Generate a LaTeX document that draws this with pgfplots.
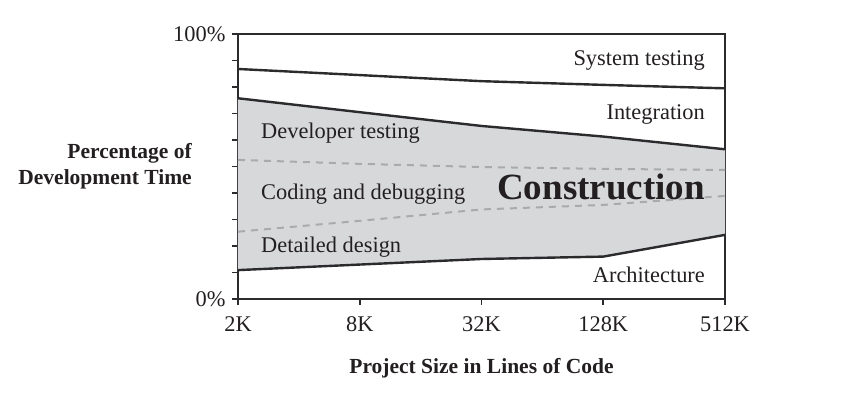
\documentclass[border=0pt]{standalone}
\usepackage{pgfplots}
\pgfplotsset{compat=1.18}
\usepackage{fontspec}
\setmainfont{Liberation Serif}
\definecolor{linec}{HTML}{2B2B2D}
\definecolor{fillc}{HTML}{D7D8DA}
\definecolor{dashc}{HTML}{A9AAAC}
\definecolor{txt}{HTML}{231F20}
\newcommand\lab{\fontsize{22.4}{26}\selectfont}
\newcommand\blab{\fontsize{21.5}{25.5}\selectfont\bfseries}
\begin{document}
\begin{tikzpicture}
\begin{axis}[
  scale only axis, width=487pt, height=265pt,
  xmin=0, xmax=4, ymin=0, ymax=100,
  xtick={0,1,2,3,4}, xticklabels={2K,8K,32K,128K,512K},
  ytick={0,10,...,100}, yticklabels={0\%,,,,,,,,,,100\%},
  tick pos=left, tick align=outside, major tick length=6pt,
  axis line style={linec, line width=2.4pt},
  every tick/.style={linec, line width=1.8pt},
  tick label style={font=\lab, text=txt},
  /pgf/number format/assume math mode=true,
  xticklabel style={yshift=-8pt},
  yticklabel style={xshift=-3pt},
  xlabel={Project Size in Lines of Code},
  xlabel style={font=\blab, text=txt, at={(rel axis cs:0.5,-0.26)}, anchor=center},
  ylabel={Percentage of\\Development Time},
  ylabel style={font=\blab, text=txt, rotate=-90, at={(rel axis cs:-0.0945,0.502)}, anchor=east, align=right, inner sep=0pt},
  clip=false,
]
\addplot[fill=fillc, draw=none] coordinates {(0,10.9) (1,13.0) (2,15.1) (3,16.0) (4,24.2) (4,56.5) (3,61.3) (2,65.3) (1,70.5) (0,75.75)} -- cycle;
\addplot[dashc, line width=2pt, dash pattern=on 7pt off 6pt] coordinates {(0,52.5) (1,51.0) (2,49.8) (3,49.1) (4,48.7)};
\addplot[dashc, line width=2pt, dash pattern=on 7pt off 6pt] coordinates {(0,25.4) (1,29.5) (2,33.8) (3,35.5) (4,38.9)};
\addplot[linec, line width=2.4pt] coordinates {(0,86.8) (1,84.5) (2,82.2) (3,80.8) (4,79.5)};
\addplot[linec, line width=2.4pt] coordinates {(0,75.75) (1,70.5) (2,65.3) (3,61.3) (4,56.5)};
\addplot[linec, line width=2.4pt] coordinates {(0,10.9) (1,13.0) (2,15.1) (3,16.0) (4,24.2)};
\begin{scope}[every node/.style={font=\lab, text=txt, inner sep=0pt}]
\node[anchor=base east] at (axis cs:3.836,88.3) {System testing};
\node[anchor=base east] at (axis cs:3.836,67.9) {Integration};
\node[anchor=base west] at (axis cs:0.189,60.75) {Developer testing};
\node[anchor=base west] at (axis cs:0.189,37.7) {Coding and debugging};
\node[anchor=base west] at (axis cs:0.189,17.4) {Detailed design};
\node[anchor=base east] at (axis cs:3.836,6.4) {Architecture};
\node[anchor=base east, font=\fontsize{37}{40}\selectfont\bfseries] at (axis cs:3.836,37.4) {Construction};
\end{scope}
\coordinate (bl) at (rel axis cs:-0.4887,-0.3547);
\coordinate (tr) at (rel axis cs:1.2505,1.1283);
\end{axis}
\pgfresetboundingbox
\path[use as bounding box] (bl) rectangle (tr);
\end{tikzpicture}
\end{document}
